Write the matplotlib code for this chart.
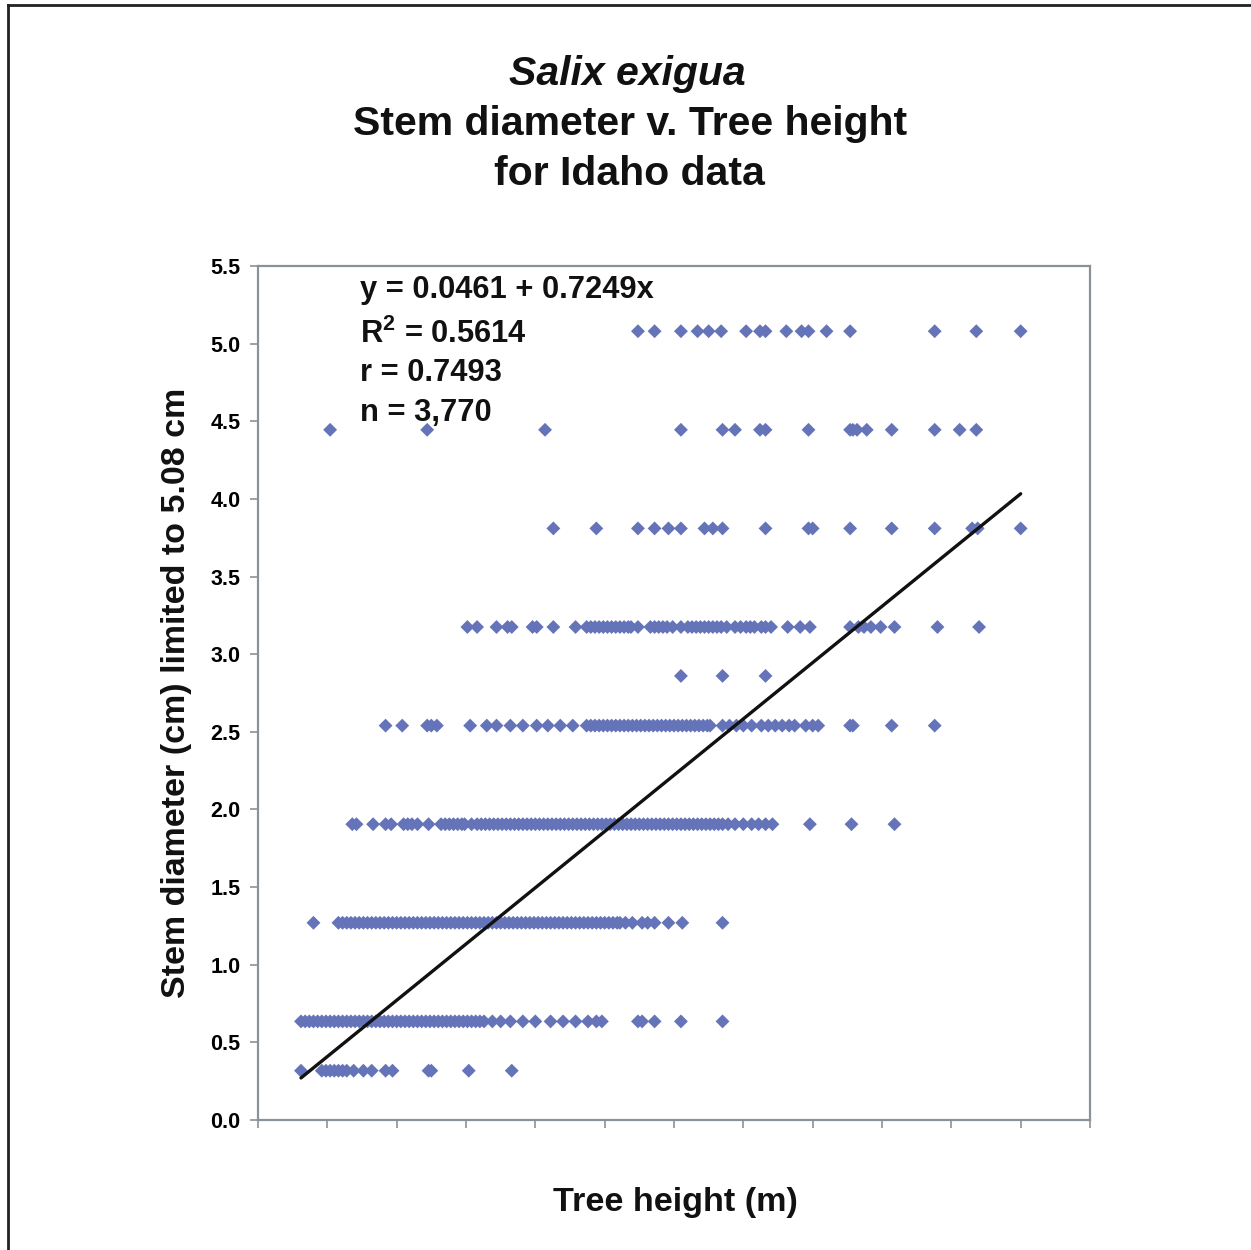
import matplotlib
matplotlib.use("Agg")
import matplotlib.pyplot as plt
from matplotlib.lines import Line2D
import numpy as np

plt.rcParams['font.family'] = ['Liberation Sans', 'DejaVu Sans']
plt.rcParams['font.weight'] = 'bold'
plt.rcParams['mathtext.fontset'] = 'custom'
plt.rcParams['mathtext.rm'] = 'Liberation Sans:bold'
plt.rcParams['mathtext.bf'] = 'Liberation Sans:bold'

# ---------------- data (tree height in m, per stem diameter class in cm) ----------------
h_0318 = [0.31, 0.46, 0.49, 0.52, 0.55, 0.58, 0.61, 0.64, 0.69, 0.76, 0.82, 0.92, 0.97,
          1.23, 1.25, 1.52, 1.83]
h_0635 = [0.31, 0.34, 0.37, 0.40, 0.43, 0.46, 0.49, 0.52, 0.55, 0.58, 0.61, 0.64,
          0.67, 0.70, 0.73, 0.76, 0.79, 0.82, 0.85, 0.88, 0.91, 0.94, 0.97, 1.00, 1.03,
          1.06, 1.09, 1.12, 1.15, 1.18, 1.21, 1.24, 1.27, 1.30, 1.33, 1.36, 1.39, 1.42,
          1.45, 1.48, 1.51, 1.54, 1.57, 1.60, 1.63, 1.69, 1.75, 1.82, 1.91, 2.00, 2.11,
          2.20, 2.29, 2.38, 2.44, 2.48, 2.74, 2.77, 2.86, 3.05, 3.35]
h_1270 = [0.40, 0.58, 0.61, 0.64, 0.67, 0.70, 0.73, 0.76, 0.79, 0.82, 0.85, 0.88, 0.91,
          0.94, 0.97, 1.00, 1.03, 1.06, 1.09, 1.12, 1.15, 1.18, 1.21, 1.24, 1.27, 1.30,
          1.33, 1.36, 1.39, 1.42, 1.45, 1.48, 1.51, 1.54, 1.57, 1.60, 1.63, 1.66, 1.69,
          1.72, 1.75, 1.78, 1.81, 1.84, 1.87, 1.90, 1.93, 1.96, 1.99, 2.02, 2.05, 2.08,
          2.11, 2.14, 2.17, 2.20, 2.23, 2.26, 2.29, 2.32, 2.35, 2.38, 2.41, 2.44, 2.47,
          2.50, 2.53, 2.56, 2.59, 2.61, 2.65, 2.70, 2.77, 2.81, 2.86, 2.96, 3.06, 3.35]
h_1905 = [0.68, 0.71, 0.83, 0.92, 0.96, 1.05, 1.08, 1.11, 1.15, 1.23, 1.32, 1.35, 1.38,
          1.41, 1.44, 1.47, 1.49, 1.54, 1.58, 1.61, 1.64, 1.67, 1.70, 1.73, 1.76, 1.79,
          1.82, 1.85, 1.88, 1.91, 1.94, 1.97, 2.00, 2.03, 2.06, 2.09, 2.12, 2.15, 2.18,
          2.21, 2.24, 2.27, 2.30, 2.33, 2.36, 2.39, 2.42, 2.45, 2.48, 2.51, 2.54, 2.57,
          2.60, 2.63, 2.66, 2.69, 2.72, 2.75, 2.78, 2.81, 2.84, 2.87, 2.90, 2.93, 2.96,
          2.99, 3.02, 3.05, 3.08, 3.11, 3.14, 3.17, 3.20, 3.23, 3.26, 3.29, 3.32, 3.35,
          3.39, 3.44, 3.50, 3.56, 3.61, 3.66, 3.71, 3.98, 4.28, 4.59]
h_2540 = [0.92, 1.04, 1.22, 1.25, 1.29, 1.53, 1.65, 1.72, 1.82, 1.91, 2.01, 2.09, 2.18,
          2.27, 2.37, 2.40, 2.43, 2.46, 2.49, 2.52, 2.55, 2.58, 2.61, 2.64, 2.67, 2.70,
          2.73, 2.76, 2.79, 2.82, 2.85, 2.88, 2.91, 2.94, 2.97, 3.00, 3.03, 3.06, 3.09,
          3.12, 3.15, 3.18, 3.21, 3.24, 3.26, 3.35, 3.40, 3.45, 3.50, 3.56, 3.63, 3.68,
          3.73, 3.78, 3.83, 3.87, 3.95, 4.00, 4.04, 4.27, 4.29, 4.57, 4.88]
h_2860 = [3.05, 3.35, 3.66]
h_3175 = [1.51, 1.58, 1.72, 1.80, 1.83, 1.98, 2.01, 2.13, 2.29, 2.37, 2.40, 2.43, 2.46,
          2.49, 2.52, 2.55, 2.58, 2.61, 2.64, 2.67, 2.69, 2.74, 2.83, 2.86, 2.89, 2.92,
          2.95, 2.99, 3.05, 3.10, 3.13, 3.16, 3.19, 3.22, 3.25, 3.28, 3.31, 3.34, 3.38,
          3.44, 3.48, 3.52, 3.55, 3.58, 3.63, 3.66, 3.70, 3.82, 3.91, 3.98, 4.27, 4.33,
          4.37, 4.42, 4.49, 4.59, 4.90, 5.20]
h_3810 = [2.13, 2.44, 2.74, 2.86, 2.96, 3.05, 3.22, 3.28, 3.35, 3.66, 3.97, 4.00, 4.27,
          4.57, 4.88, 5.15, 5.19, 5.50]
h_4445 = [0.52, 1.22, 2.07, 3.05, 3.35, 3.44, 3.62, 3.66, 3.97, 4.27, 4.29, 4.32, 4.39,
          4.57, 4.88, 5.06, 5.18]
h_5080 = [2.74, 2.86, 3.05, 3.17, 3.25, 3.34, 3.52, 3.62, 3.66, 3.81, 3.92, 3.97, 4.10,
          4.27, 4.88, 5.18, 5.50]

diam_classes = [0.3175, 0.635, 1.27, 1.905, 2.54, 2.86, 3.175, 3.81, 4.445, 5.08]
heights_by_class = [h_0318, h_0635, h_1270, h_1905, h_2540, h_2860, h_3175,
                    h_3810, h_4445, h_5080]

intercept = 0.0461
slope = 0.7249
stats_lines = ["y = 0.0461 + 0.7249x", "R$^{\\mathbf{2}}$ = 0.5614", "r = 0.7493", "n = 3,770"]

title_lines = ["Salix exigua", "Stem diameter v. Tree height", "for Idaho data"]
x_label = "Tree height (m)"
y_label = "Stem diameter (cm) limited to 5.08 cm"

# ---------------- figure ----------------
W, H = 1251, 1250
fig = plt.figure(figsize=(W / 100, H / 100), dpi=100)
fig.patch.set_facecolor('white')

ax = fig.add_axes([258 / W, 1 - 1120 / H, (1090 - 258) / W, (1120 - 266) / H])

xs, ys = [], []
for d, hs in zip(diam_classes, heights_by_class):
    xs.extend(hs)
    ys.extend([d] * len(hs))
xs = np.array(xs)
ys = np.array(ys)

ax.scatter(xs, ys, marker='D', s=50, color='#6574B8', edgecolors='none', zorder=2)

xl = np.array([xs.min(), xs.max()])
ax.plot(xl, intercept + slope * xl, color='#111111', lw=2.4, zorder=3,
        solid_capstyle='round')

ax.set_xlim(0, 6)
ax.set_ylim(0, 5.5)
ax.set_xticks(np.arange(0, 6.01, 0.5))
ax.set_xticklabels([])
ax.set_yticks(np.arange(0, 5.51, 0.5))
ax.set_yticklabels([f"{v:.1f}" for v in np.arange(0, 5.51, 0.5)], fontsize=15.5,
                   fontweight='bold')
spine_col = '#8A9299'
for s in ax.spines.values():
    s.set_color(spine_col)
    s.set_linewidth(1.6)
ax.tick_params(axis='x', direction='out', length=6, width=1.2, color=spine_col)
ax.tick_params(axis='y', direction='out', length=6, width=1.2, color=spine_col, pad=6.5)

# stats text
y_pos = [290, 334, 373, 413]
for txt, yp in zip(stats_lines, y_pos):
    fig.text(360 / W, 1 - yp / H, txt, fontsize=22.2, fontweight='bold',
             ha='left', va='center', color='#111111')

# titles
fig.text(627 / W, 1 - 74 / H, title_lines[0], fontsize=29.5, fontweight='bold',
         style='italic', ha='center', va='center', color='#111111')
fig.text(630 / W, 1 - 124 / H, title_lines[1], fontsize=29.5, fontweight='bold',
         ha='center', va='center', color='#111111')
fig.text(629 / W, 1 - 174 / H, title_lines[2], fontsize=29.5, fontweight='bold',
         ha='center', va='center', color='#111111')

fig.text(675 / W, 1 - 1202 / H, x_label, fontsize=24.6, fontweight='bold',
         ha='center', va='center', color='#111111')
fig.text(177 / W, 1 - 693 / H, y_label, fontsize=24.5, fontweight='bold',
         ha='center', va='center', rotation=90, color='#111111')

# outer border (top and left)
fig.add_artist(Line2D([8 / W, 1.0], [1 - 5 / H, 1 - 5 / H], color='#222222', lw=2,
                      transform=fig.transFigure))
fig.add_artist(Line2D([8 / W, 8 / W], [0.0, 1 - 5 / H], color='#222222', lw=2,
                      transform=fig.transFigure))

fig.savefig("out.png", dpi=100, facecolor='white')
